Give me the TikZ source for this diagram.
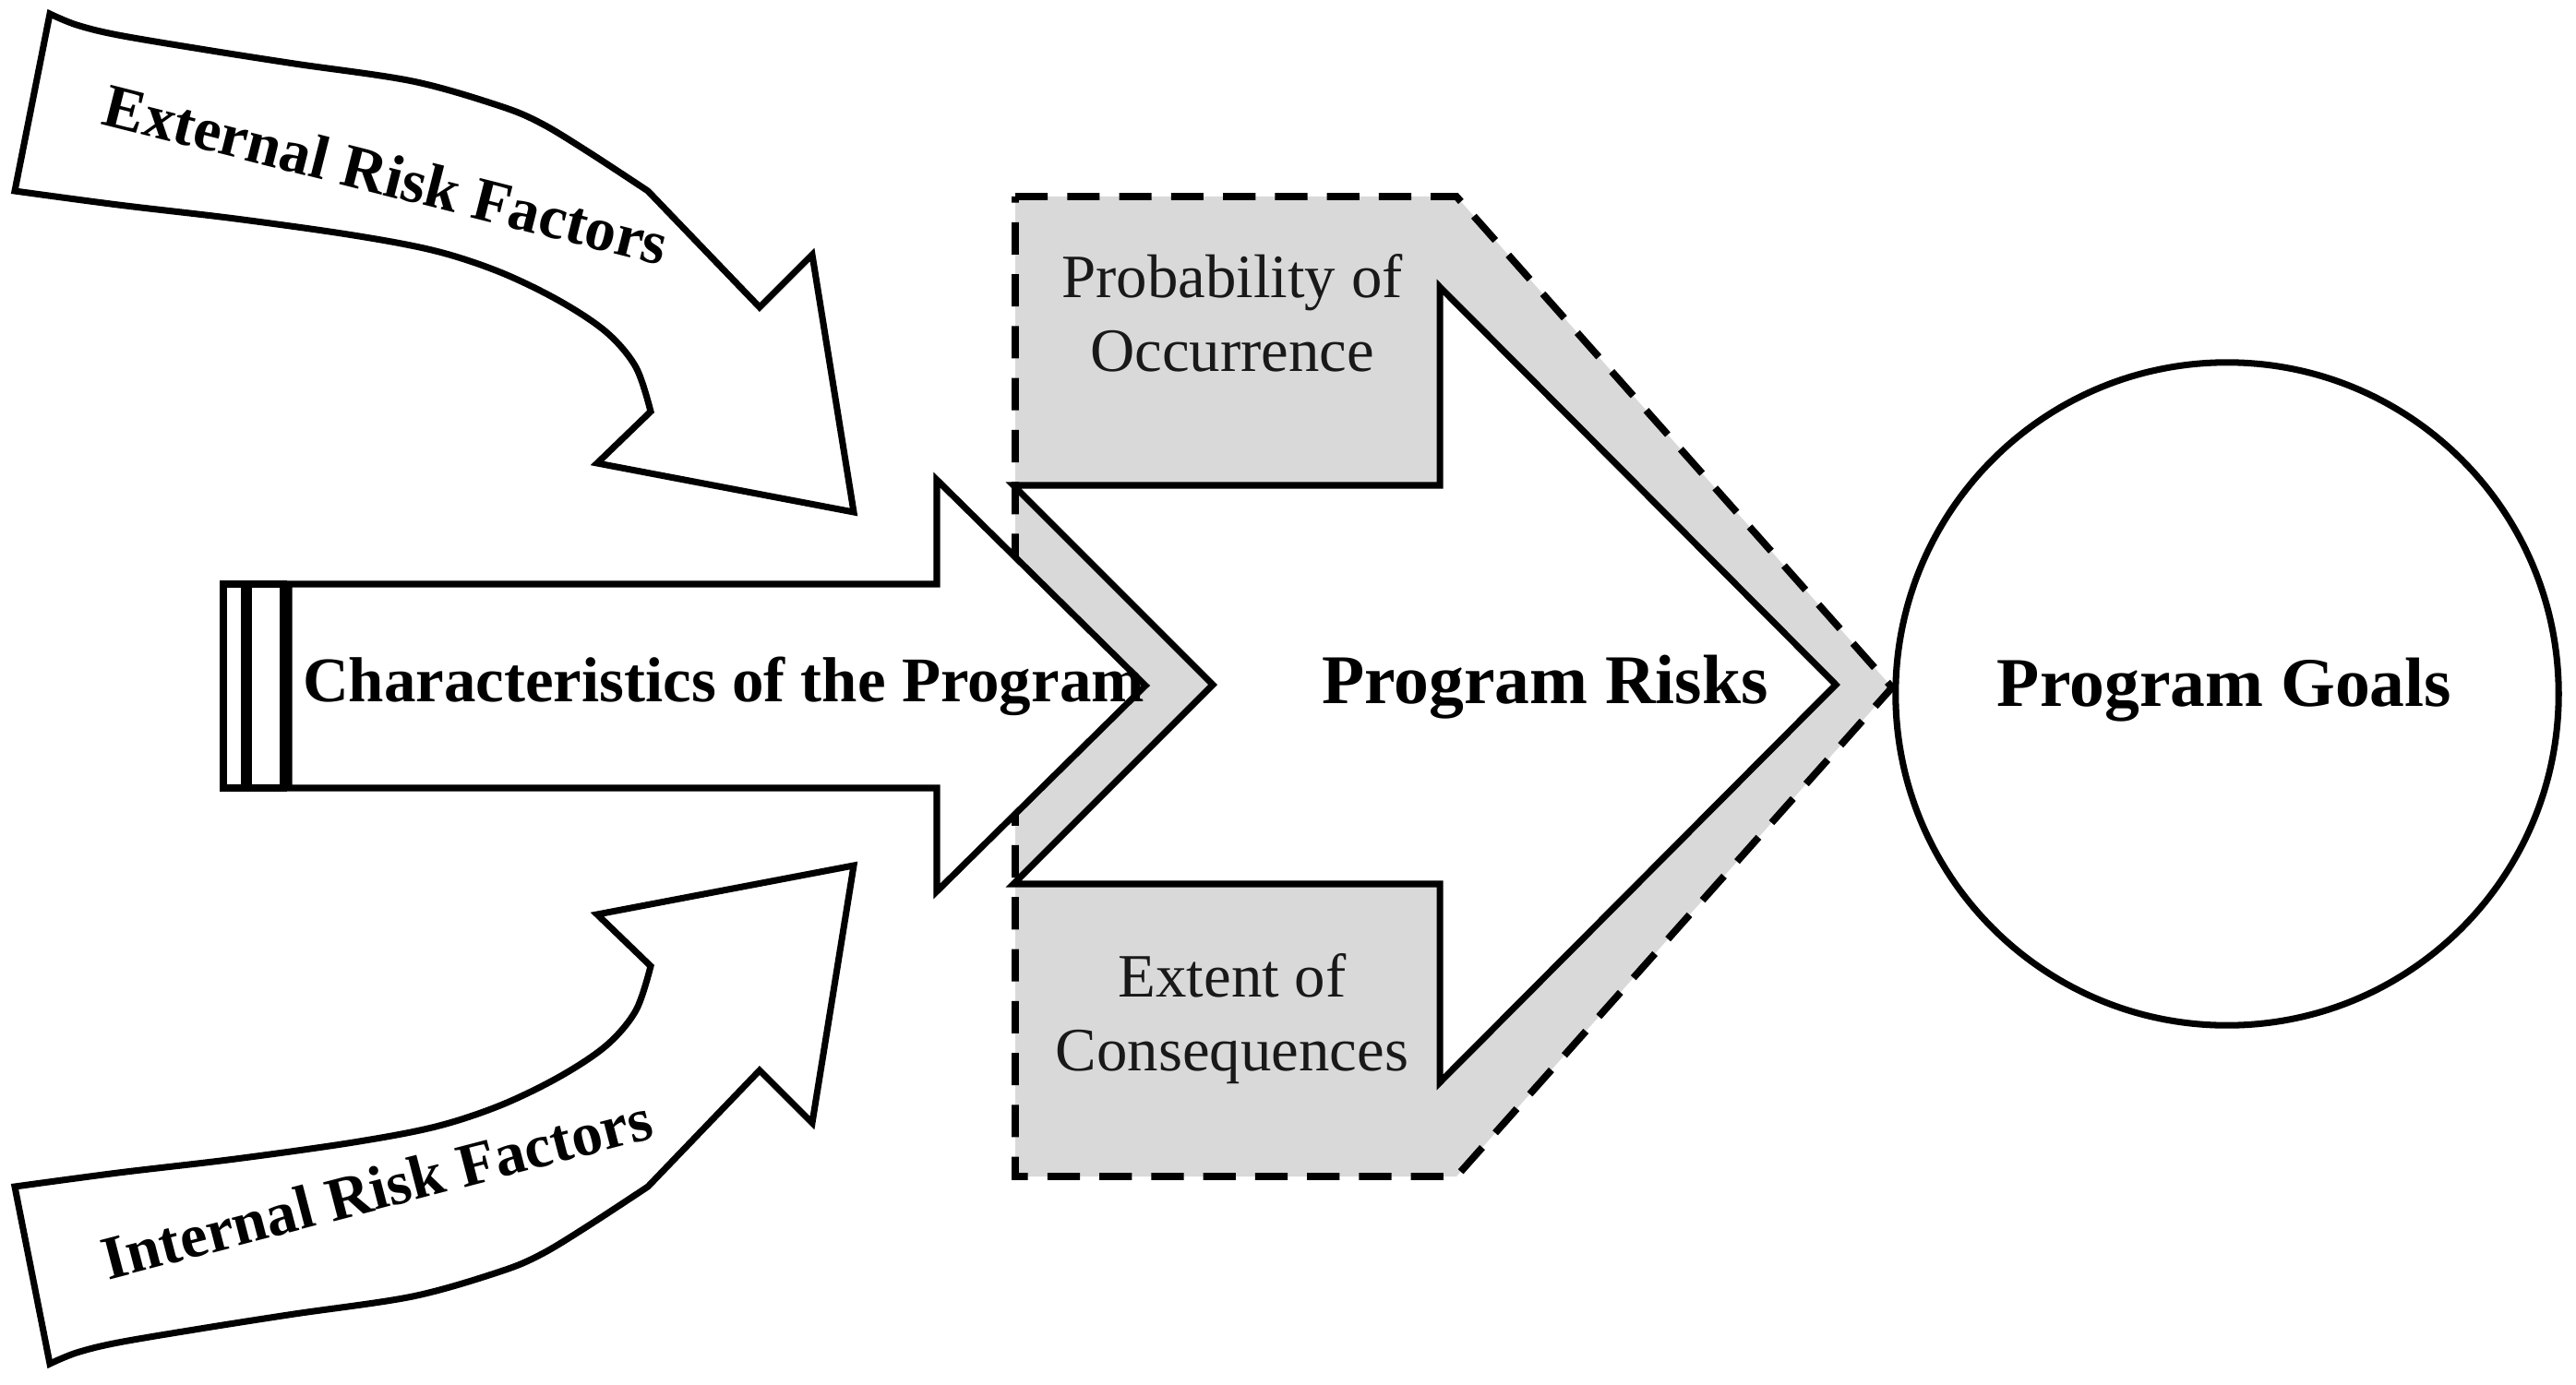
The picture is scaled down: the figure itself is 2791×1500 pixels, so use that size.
\documentclass[tikz,border=0pt]{standalone}
\usepackage{fontspec}
\setmainfont{Liberation Serif}
\definecolor{zonegray}{RGB}{217,217,217}
\tikzset{
  outl/.style={draw=black, line width=2pt, fill=white, line join=miter},
  zone/.style={draw=black, line width=2.2pt, dash pattern=on 10pt off 6pt, fill=zonegray},
  boldlbl/.style={inner sep=0pt, font=\bfseries\fontsize{19}{22}\selectfont},
  biglbl/.style={inner sep=0pt, font=\bfseries\fontsize{21.5}{25}\selectfont},
  reglbl/.style={inner sep=0pt, align=center, text=black!90, font=\fontsize{19}{22.5}\selectfont},
}
\begin{document}
\begin{tikzpicture}[x=0.01cm, y=-0.01cm]
\useasboundingbox (0,0) rectangle (2791,1500);

% dashed grey zone
\draw[zone] (1100,213) -- (1578,213) -- (2050,745) -- (1578,1275) -- (1100,1275) -- cycle;

% curved arrow shape (external), and its mirror (internal)
\def\curvedarrow{%
  (54,15) -- plot[smooth, tension=0.55] coordinates {(54,15) (83,27) (128,38) (223,54) (319,69) (447,88) (542,115) (587,134) (638,165) (702,207)}
  -- (823,333) -- (880,276) -- (925,555) -- (647,502) -- (705,446)
  -- plot[smooth, tension=0.55] coordinates {(705,446) (689,398) (657,360) (606,326) (542,295) (472,272) (383,255) (255,237) (128,222) (16,207)}
  -- cycle}
\draw[outl] \curvedarrow;
\begin{scope}[shift={(0,1493)}, yscale=-1]
  \draw[outl] \curvedarrow;
\end{scope}

% striped arrow: characteristics of the program
\draw[outl] (242,633) rectangle (265,854);
\draw[outl] (269,633) rectangle (307,854);
\draw[outl] (313,633) -- (1015,633) -- (1015,520) -- (1241,743) -- (1015,966) -- (1015,854) -- (313,854) -- cycle;

% notched arrow: program risks
\draw[outl] (1098,526) -- (1560,526) -- (1560,311) -- (1989,742) -- (1560,1173) -- (1560,958) -- (1098,958) -- (1314,742) -- cycle;

% program goals
\node[circle, draw=black, line width=2pt, fill=white, minimum size=7.18cm, inner sep=0pt,
      biglbl] (goals) at (2413,752) {};
\node[biglbl, anchor=base] (goalstxt) at (2410,765) {Program Goals};

% labels
\node[boldlbl, anchor=base, rotate=-14.2] (ext) at (413,211) {External Risk Factors};
\node[boldlbl, anchor=base, rotate=14.6] (int) at (414,1310) {Internal Risk Factors};
\node[boldlbl, anchor=base, font=\bfseries\fontsize{19.6}{23}\selectfont] (char) at (784,760) {Characteristics of the Program};
\node[biglbl, anchor=base] (risks) at (1674,762) {Program Risks};
\node[reglbl, anchor=base] (prob) at (1335,402) {Probability of\\Occurrence};
\node[reglbl, anchor=base] (cons) at (1335,1160) {Extent of\\Consequences};
\end{tikzpicture}
\end{document}
